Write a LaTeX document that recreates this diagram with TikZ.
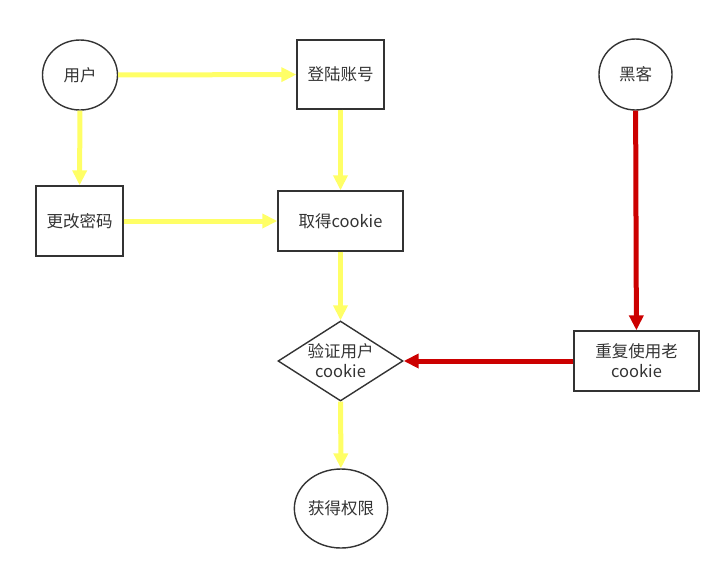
\documentclass[tikz,border=0pt]{standalone}
\usepackage{fontspec}
\newfontfamily\cjk{Noto Sans CJK SC}
\usepackage{tikz}
\usetikzlibrary{arrows.meta}
\usetikzlibrary{shapes.geometric}
\usetikzlibrary{positioning}
\definecolor{lineyellow}{HTML}{FFFF66}
\definecolor{linered}{HTML}{CC0000}
\definecolor{textgray}{HTML}{333333}
\begin{document}
\begin{tikzpicture}[x=1pt,y=-1pt,>={Triangle[length=15pt,width=14pt]},
    every node/.style={font=\cjk\fontsize{16.5}{20}\selectfont,text=textgray,draw=textgray,line width=1.4pt,align=center},
    roundbox/.style={ellipse,inner sep=0pt},
    rectbox/.style={rectangle,inner sep=0pt},
    yflow/.style={->,draw=lineyellow,line width=5pt},
    rflow/.style={->,draw=linered,line width=5pt}]
      \useasboundingbox (0,0) rectangle (718,574);

      % nodes
      \node[roundbox,minimum width=75pt,minimum height=70pt] (user) at (80,75) {用户};
      \node[rectbox,minimum width=87pt,minimum height=69pt] (login) at (340.5,74.5) {登陆账号};
      \node[roundbox,minimum width=73pt,minimum height=71pt] (hacker) at (635.5,74.5) {黑客};
      \node[rectbox,minimum width=87pt,minimum height=70pt] (change) at (79.5,221) {更改密码};
      \node[rectbox,minimum width=125pt,minimum height=60pt] (getck) at (340.5,221) {取得cookie};
      \node[diamond,aspect=1.5625,inner sep=0pt,minimum width=125pt,minimum height=80pt] (check) at (340.5,361) {验证用户\\cookie};
      \node[rectbox,minimum width=125pt,minimum height=60pt] (reuse) at (636.5,361) {重复使用老\\cookie};
      \node[roundbox,minimum width=90pt,minimum height=79pt] (grant) at (341,508.5) {获得权限};

      % Benutzer
      \draw[yflow] (user) -- (login);
      \draw[yflow] (user) -- (change);
      \draw[yflow] (login) -- (getck);
      \draw[yflow] (change) -- (getck);
      \draw[yflow] (getck) -- (check);
      \draw[yflow] (check) -- (grant);

      % Angreifer
      \draw[rflow] (hacker) -- (reuse);
      \draw[rflow] (reuse) -- (check);
\end{tikzpicture}
\end{document}
